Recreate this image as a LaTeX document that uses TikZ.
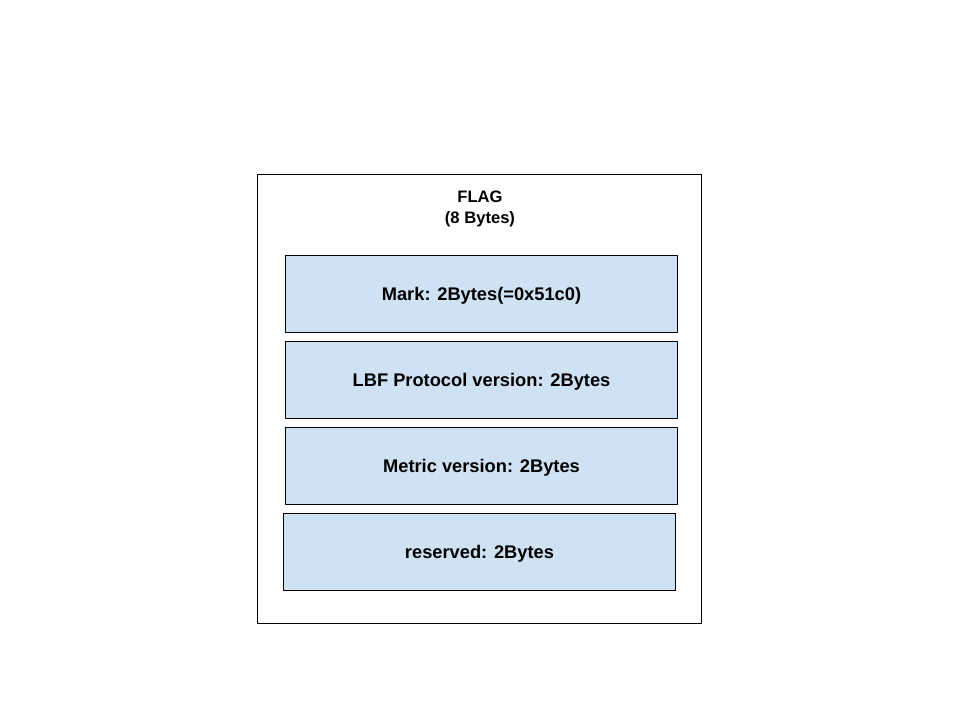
\documentclass[tikz,border=0pt]{standalone}
\usepackage{fontspec}
\setmainfont{Liberation Sans}
\tikzset{
	field/.style={draw=black, fill=fieldblue, line width=0.75pt, minimum width=9.775cm, minimum height=1.925cm, inner sep=0pt, text height=9.3pt, text depth=0pt, font=\fontsize{13}{15}\selectfont\bfseries},
	frame/.style={draw=black, line width=0.75pt, minimum width=11.075cm, minimum height=11.2cm, inner sep=0pt}
}
\definecolor{fieldblue}{HTML}{CFE2F3}
\begin{document}
		\begin{tikzpicture}[x=0.025cm, y=-0.025cm, line join=round]
			\useasboundingbox (0,0) rectangle (960,720);
			\node[frame] (flag) at (479.5,399) {};
			\node[font=\fontsize{11.8}{15}\selectfont\bfseries, align=center] (title) at (480,209) {FLAG\\(8 Bytes)};
			\node[field] (mark) at (481.5,294) {Mark: 2Bytes(=0x51c0)};
			\node[field] (proto) at (481.5,380) {LBF Protocol version: 2Bytes};
			\node[field] (metric) at (481.5,466) {Metric version: 2Bytes};
			\node[field] (resv) at (479.5,552) {reserved: 2Bytes};
		\end{tikzpicture}
\end{document}
